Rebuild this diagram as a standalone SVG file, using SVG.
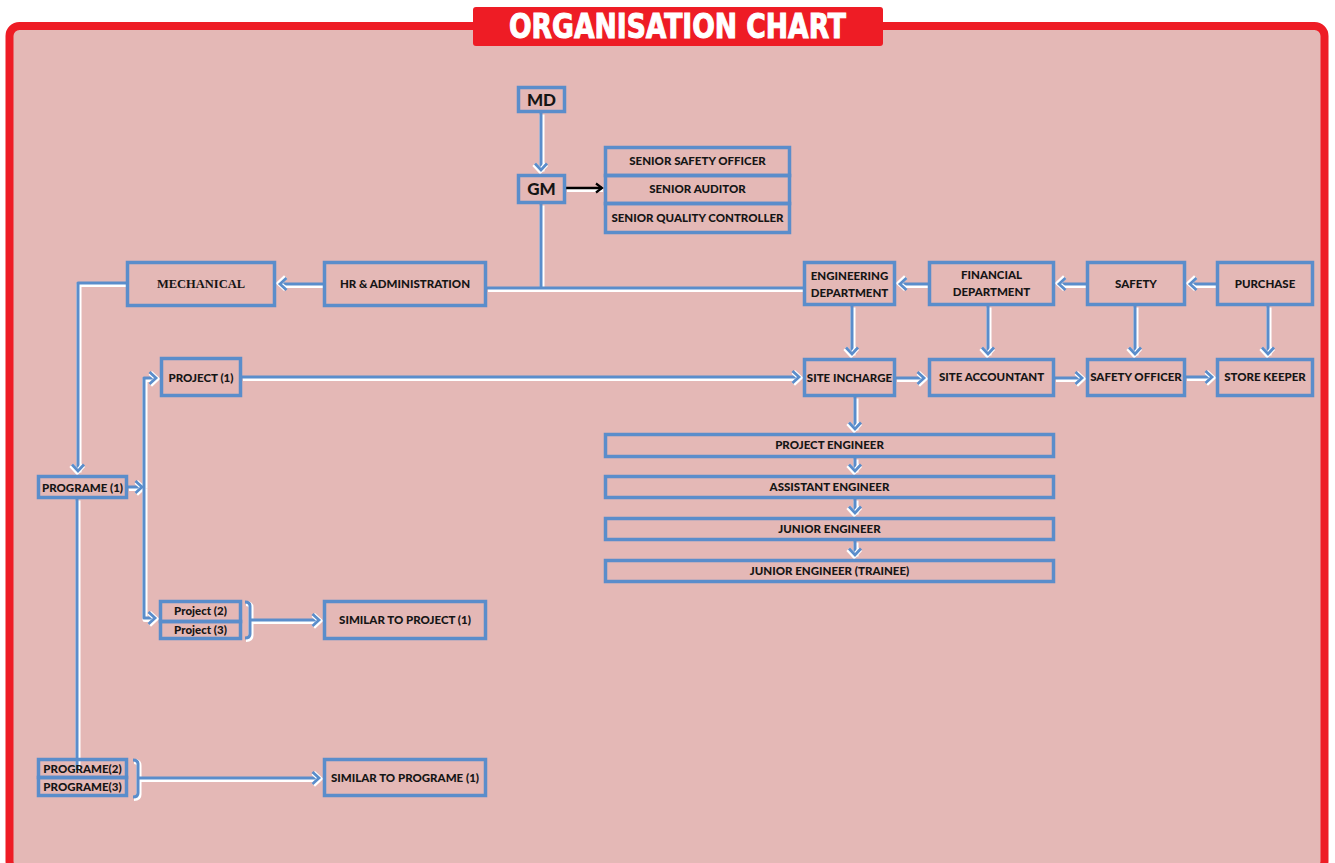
<svg xmlns="http://www.w3.org/2000/svg" width="1335" height="863" viewBox="0 0 1335 863">
<defs>
<style>
.box{fill:none;stroke:#5A8DCB;stroke-width:3.5}
.t{font-family:Lato,"Open Sans","Liberation Sans",sans-serif;font-weight:900;font-size:11.5px;fill:#151515;text-anchor:middle}
.big{font-size:17px}
.serif{font-family:"Liberation Serif","DejaVu Serif",serif;font-weight:bold;font-size:12.5px}
.halo{fill:none;stroke:#FFFFFF;stroke-width:5;stroke-linejoin:round}
.c{fill:none;stroke:#5A8DCB;stroke-width:3;stroke-linejoin:round}
.cb{fill:none;stroke:#000000;stroke-width:2.5}
</style>
<marker id="ah" markerUnits="userSpaceOnUse" markerWidth="12" markerHeight="14" refX="7" refY="6" orient="auto" overflow="visible">
<path d="M0.5,0 L7,6 L0.5,12" fill="none" stroke="#FFFFFF" stroke-width="5" transform="translate(0.8,0.8)"/>
<path d="M0.5,0 L7,6 L0.5,12" fill="none" stroke="#5A8DCB" stroke-width="2.8"/>
</marker>
<marker id="ahb" markerUnits="userSpaceOnUse" markerWidth="12" markerHeight="14" refX="7" refY="5" orient="auto" overflow="visible">
<path d="M1,0.5 L7,5 L1,9.5" fill="none" stroke="#000000" stroke-width="2.2"/>
</marker>
</defs>

<!-- frame -->
<rect x="9.5" y="26" width="1315" height="845" rx="10" fill="#E4B8B6" stroke="#EE1C25" stroke-width="8"/>
<g id="title">
<rect x="473" y="7" width="410" height="39" rx="3" fill="#EE1C25"/>
<text x="677.5" y="38" font-family="'Liberation Sans Narrow','DejaVu Sans Condensed','Liberation Sans',sans-serif" font-weight="bold" font-size="34" fill="#FFFFFF" stroke="#FFFFFF" stroke-width="1" text-anchor="middle" textLength="337" lengthAdjust="spacingAndGlyphs">ORGANISATION CHART</text>
</g>

<!-- connectors -->
<g id="connectors">
<g transform="translate(1,1.5)">
<path class="halo" d="M541,113 V170"/>
<path class="halo" d="M541,204 V287"/>
<path class="halo" d="M487,288 H803"/>
<path class="halo" d="M323,284 H280"/>
<path class="halo" d="M126,283 H78 V471"/>
<path class="halo" d="M928,284 H900"/>
<path class="halo" d="M1086,284 H1059"/>
<path class="halo" d="M1216,284 H1190"/>
<path class="halo" d="M852,306 V354"/>
<path class="halo" d="M988,306 V354"/>
<path class="halo" d="M1135,306 V354"/>
<path class="halo" d="M1268,306 V354"/>
<path class="halo" d="M896,378 H924"/>
<path class="halo" d="M1055,378 H1082"/>
<path class="halo" d="M1186,377 H1212"/>
<path class="halo" d="M242,377 H799"/>
<path class="halo" d="M855,397 V429"/>
<path class="halo" d="M855,458 V471"/>
<path class="halo" d="M855,499 V513"/>
<path class="halo" d="M855,541 V555"/>
<path class="halo" d="M128,487 H142"/>
<path class="halo" d="M144,487 V378 H156"/>
<path class="halo" d="M144,487 V618 H155"/>
<path class="halo" d="M245,602 Q250,602 250,606 V634 Q250,638 245,638"/>
<path class="halo" d="M250,620 H319"/>
<path class="halo" d="M77,499 V770"/>
<path class="halo" d="M133,760 Q138,760 138,764 V793 Q138,797 133,797"/>
<path class="halo" d="M138,778 H319"/>
<path class="halo" d="M566,188 H602"/>
</g>
<path class="c" d="M541,113 V170" marker-end="url(#ah)"/>
<path class="c" d="M541,204 V287"/>
<path class="c" d="M487,288 H803"/>
<path class="c" d="M323,284 H280" marker-end="url(#ah)"/>
<path class="c" d="M126,283 H78 V471" marker-end="url(#ah)"/>
<path class="c" d="M928,284 H900" marker-end="url(#ah)"/>
<path class="c" d="M1086,284 H1059" marker-end="url(#ah)"/>
<path class="c" d="M1216,284 H1190" marker-end="url(#ah)"/>
<path class="c" d="M852,306 V354" marker-end="url(#ah)"/>
<path class="c" d="M988,306 V354" marker-end="url(#ah)"/>
<path class="c" d="M1135,306 V354" marker-end="url(#ah)"/>
<path class="c" d="M1268,306 V354" marker-end="url(#ah)"/>
<path class="c" d="M896,378 H924" marker-end="url(#ah)"/>
<path class="c" d="M1055,378 H1082" marker-end="url(#ah)"/>
<path class="c" d="M1186,377 H1212" marker-end="url(#ah)"/>
<path class="c" d="M242,377 H799" marker-end="url(#ah)"/>
<path class="c" d="M855,397 V429" marker-end="url(#ah)"/>
<path class="c" d="M855,458 V471" marker-end="url(#ah)"/>
<path class="c" d="M855,499 V513" marker-end="url(#ah)"/>
<path class="c" d="M855,541 V555" marker-end="url(#ah)"/>
<path class="c" d="M128,487 H142" marker-end="url(#ah)"/>
<path class="c" d="M144,487 V378 H156" marker-end="url(#ah)"/>
<path class="c" d="M144,487 V618 H155" marker-end="url(#ah)"/>
<path class="c" d="M245,602 Q250,602 250,606 V634 Q250,638 245,638"/>
<path class="c" d="M250,620 H319" marker-end="url(#ah)"/>
<path class="c" d="M77,499 V770"/>
<path class="c" d="M133,760 Q138,760 138,764 V793 Q138,797 133,797"/>
<path class="c" d="M138,778 H319" marker-end="url(#ah)"/>
<path class="cb" d="M566,188 H602" marker-end="url(#ahb)"/>
</g>

<!-- nodes -->
<g id="md"><rect class="box" x="518.5" y="87.5" width="46" height="24"/><text class="t big" x="541.5" y="105.5">MD</text></g>
<g id="gm"><rect class="box" x="518.5" y="175.5" width="46" height="27"/><text class="t big" x="541.5" y="195">GM</text></g>
<g id="senior-safety-officer"><rect class="box" x="605.5" y="147.5" width="184" height="28"/><text class="t" x="697.5" y="165">SENIOR SAFETY OFFICER</text></g>
<g id="senior-auditor"><rect class="box" x="605.5" y="175.5" width="184" height="28"/><text class="t" x="697.5" y="193">SENIOR AUDITOR</text></g>
<g id="senior-quality-controller"><rect class="box" x="605.5" y="203.5" width="184" height="29"/><text class="t" x="697.5" y="221.5">SENIOR QUALITY CONTROLLER</text></g>
<g id="mechanical"><rect class="box" x="127.5" y="262.5" width="147" height="43"/><text class="t serif" x="201" y="288">MECHANICAL</text></g>
<g id="hr"><rect class="box" x="324.5" y="262.5" width="161" height="43"/><text class="t" x="405" y="288">HR &amp; ADMINISTRATION</text></g>
<g id="engineering"><rect class="box" x="804.5" y="262.5" width="90" height="42"/><text class="t" x="849.5" y="280">ENGINEERING</text><text class="t" x="849.5" y="296.5">DEPARTMENT</text></g>
<g id="financial"><rect class="box" x="929.5" y="262.5" width="124" height="42"/><text class="t" x="991.5" y="279">FINANCIAL</text><text class="t" x="991.5" y="295.5">DEPARTMENT</text></g>
<g id="safety"><rect class="box" x="1087.5" y="262.5" width="97" height="42"/><text class="t" x="1136" y="288">SAFETY</text></g>
<g id="purchase"><rect class="box" x="1217.5" y="262.5" width="95" height="42"/><text class="t" x="1265" y="288">PURCHASE</text></g>
<g id="site-incharge"><rect class="box" x="804.5" y="359.5" width="90" height="36"/><text class="t" x="849.5" y="382">SITE INCHARGE</text></g>
<g id="site-accountant"><rect class="box" x="929.5" y="359.5" width="124" height="36"/><text class="t" x="991.5" y="381">SITE ACCOUNTANT</text></g>
<g id="safety-officer"><rect class="box" x="1087.5" y="359.5" width="97" height="36"/><text class="t" x="1136" y="381">SAFETY OFFICER</text></g>
<g id="store-keeper"><rect class="box" x="1217.5" y="359.5" width="95" height="36"/><text class="t" x="1265" y="381">STORE KEEPER</text></g>
<g id="project1"><rect class="box" x="161.5" y="358.5" width="79" height="37"/><text class="t" x="201" y="381.5">PROJECT (1)</text></g>
<g id="project-engineer"><rect class="box" x="605.5" y="434.5" width="448" height="22"/><text class="t" x="829.5" y="449">PROJECT ENGINEER</text></g>
<g id="assistant-engineer"><rect class="box" x="605.5" y="476.5" width="448" height="21"/><text class="t" x="829.5" y="491">ASSISTANT ENGINEER</text></g>
<g id="junior-engineer"><rect class="box" x="605.5" y="518.5" width="448" height="21"/><text class="t" x="829.5" y="533">JUNIOR ENGINEER</text></g>
<g id="junior-engineer-trainee"><rect class="box" x="605.5" y="560.5" width="448" height="21"/><text class="t" x="829.5" y="575">JUNIOR ENGINEER (TRAINEE)</text></g>
<g id="programe1"><rect class="box" x="38.5" y="476.5" width="88" height="21"/><text class="t" x="82.5" y="491.5">PROGRAME (1)</text></g>
<g id="project2-3"><rect class="box" x="160.5" y="601.5" width="80" height="20"/><rect class="box" x="160.5" y="621.5" width="80" height="17"/><text class="t" x="200.5" y="615">Project (2)</text><text class="t" x="200.5" y="634">Project (3)</text></g>
<g id="similar-project"><rect class="box" x="324.5" y="601.5" width="161" height="37"/><text class="t" x="405" y="624">SIMILAR TO PROJECT (1)</text></g>
<g id="programe2-3"><rect class="box" x="38.5" y="759.5" width="88" height="18"/><rect class="box" x="38.5" y="777.5" width="88" height="18"/><text class="t" x="82.5" y="772.5">PROGRAME(2)</text><text class="t" x="82.5" y="791">PROGRAME(3)</text></g>
<g id="similar-programe"><rect class="box" x="324.5" y="759.5" width="161" height="36"/><text class="t" x="405" y="782">SIMILAR TO PROGRAME (1)</text></g>
</svg>
